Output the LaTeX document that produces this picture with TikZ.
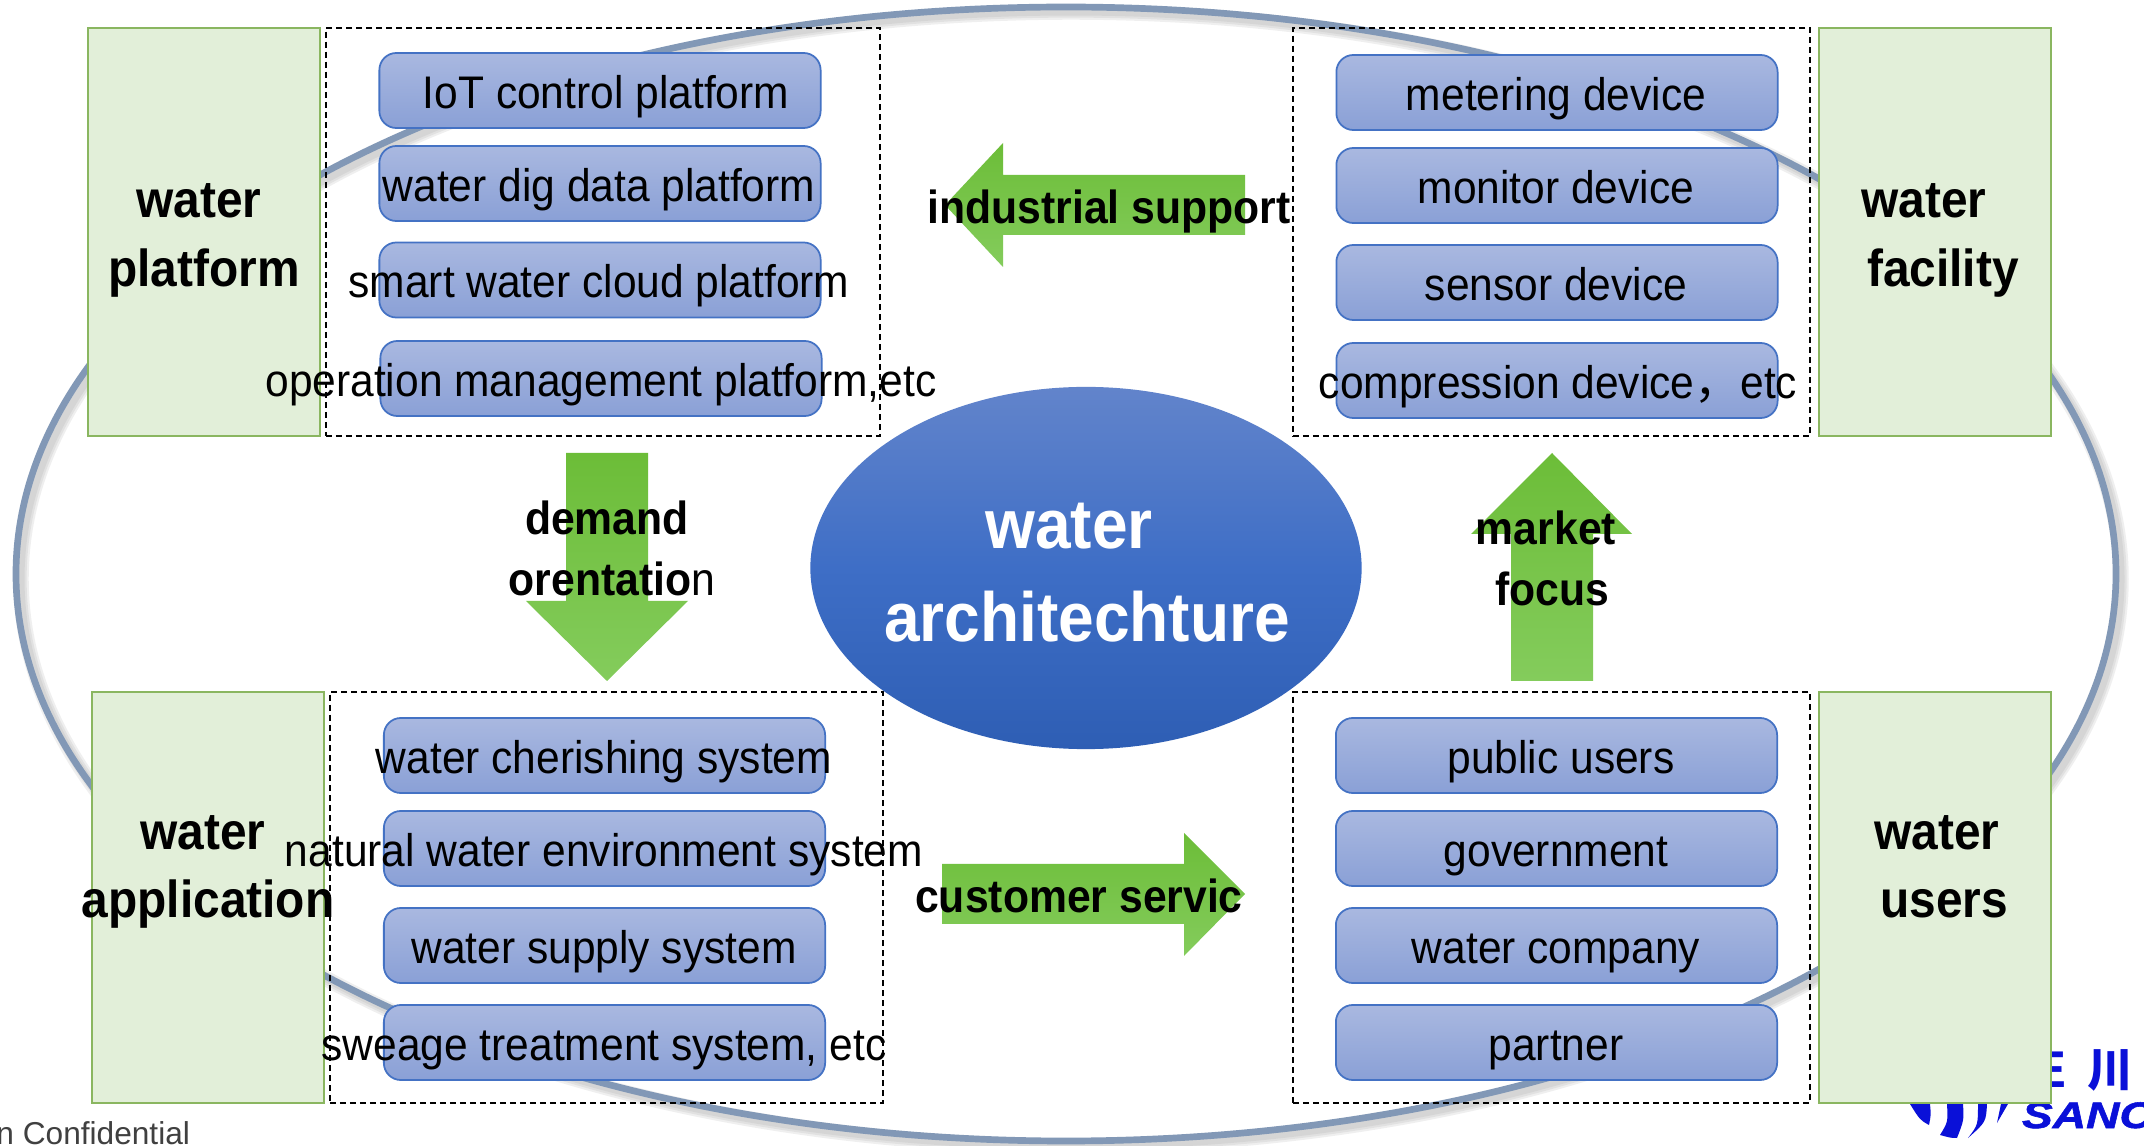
\documentclass[tikz,border=0pt]{standalone}
\usepackage{fontspec}
\setmainfont[FakeStretch=0.92]{Liberation Sans}
\newfontfamily\footfont{Liberation Sans}
\newfontfamily\itemfont[FakeStretch=0.93]{Liberation Sans}
\newfontfamily\logofont[FakeStretch=1.25,FakeBold=1.5]{Liberation Sans}
\newfontfamily\cjk{Noto Sans CJK SC}
\usetikzlibrary{shapes.geometric,positioning,calc}
\definecolor{ringblue}{HTML}{8298B6}
\definecolor{logoblue}{HTML}{0A10D8}
\definecolor{panelfill}{HTML}{E2EFD9}
\definecolor{paneledge}{HTML}{8AB660}
\definecolor{itemedge}{HTML}{4472C4}
\definecolor{itemtop}{HTML}{A9B8E0}
\definecolor{itembottom}{HTML}{8AA0D6}
\definecolor{flowtop}{HTML}{6CBD38}
\definecolor{flowbottom}{HTML}{84CC5C}
\definecolor{coretop}{HTML}{6284CB}
\definecolor{coremid}{HTML}{3E6EC6}
\definecolor{corebottom}{HTML}{2E5EB4}

\begin{document}
\begin{tikzpicture}[x=0.01cm, y=-0.01cm, outer sep=0pt]
        \tikzstyle{panel}=[draw=paneledge,fill=panelfill,line width=0.4pt,minimum width=2.32cm,inner sep=0pt]
        \tikzstyle{group}=[draw=black,line width=0.55pt,dash pattern=on 0.06cm off 0.04cm,minimum height=4.08cm,inner sep=0pt]
        \tikzstyle{itembox}=[draw=itemedge,line width=0.5pt,rounded corners=0.17cm,minimum width=4.41cm,minimum height=0.75cm,top color=itemtop,bottom color=itembottom,inner sep=0pt]
        \tikzstyle{itemtext}=[font=\itemfont\fontsize{13}{15}\selectfont,text=black,inner sep=0pt,anchor=base]
        \tikzstyle{paneltext}=[font=\fontsize{14.8}{18}\selectfont\bfseries,text=black,inner sep=0pt,anchor=base]
        \tikzstyle{flowtext}=[font=\fontsize{13.2}{15}\selectfont\bfseries,text=black,inner sep=0pt]
        \tikzstyle{flow}=[top color=flowtop,bottom color=flowbottom]
        \tikzstyle{ringshadow}=[gray,opacity=0.12]
        \useasboundingbox (0,0) rectangle (2144,1146);
        \fill[white] (0,0) rectangle (2144,1146);

        % outer ring
        \draw[ringshadow,line width=4.4pt] (1071,579) ellipse (1050 and 567);
        \draw[ringshadow,line width=3.2pt] (1071,579) ellipse (1050 and 567);
        \draw[ringshadow,line width=2pt] (1071,579) ellipse (1050 and 567);
        \draw[ringblue,line width=1.9pt] (1066,574) ellipse (1050 and 567);

        % logo
        \node[text=logoblue,font=\fontsize{14.7}{15}\selectfont\bfseries,inner sep=0pt] (logoE) at (2050,1070) {E};
        \node[text=logoblue,font=\cjk\fontsize{13}{14}\selectfont\bfseries,inner sep=0pt] (logoC) at (2110,1070) {川};
        \node[text=logoblue,font=\logofont\fontsize{10.5}{12}\selectfont\bfseries\itshape,anchor=base west,inner sep=0pt] (logoS) at (2022,1128) {SANC};
        \fill[logoblue] (1910,1104) -- (1930,1104) .. controls (1931,1115) .. (1929,1125) .. controls (1920,1120) .. (1910,1104) -- cycle;
        \fill[logoblue] (1947,1104) -- (1963,1104) .. controls (1964,1120) .. (1957,1138) .. controls (1951,1138) .. (1940,1135) .. controls (1948,1122) .. (1947,1104) -- cycle;
        \fill[logoblue] (1978,1104) -- (1987,1104) .. controls (1986,1122) .. (1968,1138) .. controls (1978,1125) .. (1978,1104) -- cycle;
        \fill[logoblue] (2008,1104) -- (2001,1104) -- (1997,1123) -- cycle;

        % dashed groups
        \node[group,minimum width=5.54cm] (plat) at (603,232) {};
        \node[group,minimum width=5.17cm] (faci) at (1551.5,232) {};
        \node[group,minimum width=5.53cm,minimum height=4.11cm] (appl) at (606.5,897.5) {};
        \node[group,minimum width=5.17cm,minimum height=4.11cm] (user) at (1551.5,897.5) {};

        % panels
        \node[panel,minimum height=4.08cm] (platP) at (204,232) {};
        \node[panel,minimum height=4.08cm] (faciP) at (1935,232) {};
        \node[panel,minimum height=4.11cm] (applP) at (208,897.5) {};
        \node[panel,minimum height=4.11cm] (userP) at (1935,897.5) {};

        % item boxes
        \node[itembox] (p1) at (600,90.5) {};
        \node[itembox] (p2) at (600,183.5) {};
        \node[itembox] (p3) at (600,280) {};
        \node[itembox] (p4) at (601,378.5) {};
        \node[itembox] (f1) at (1557,92.5) {};
        \node[itembox] (f2) at (1557,185.5) {};
        \node[itembox] (f3) at (1557,282.5) {};
        \node[itembox] (f4) at (1557,380.5) {};
        \node[itembox] (a1) at (604.5,755.5) {};
        \node[itembox] (a2) at (604.5,848.5) {};
        \node[itembox] (a3) at (604.5,945.5) {};
        \node[itembox] (a4) at (604.5,1042.5) {};
        \node[itembox] (u1) at (1556.5,755.5) {};
        \node[itembox] (u2) at (1556.5,848.5) {};
        \node[itembox] (u3) at (1556.5,945.5) {};
        \node[itembox] (u4) at (1556.5,1042.5) {};

        % green arrows
        \shade[flow] (945,205) -- (1003,143) -- (1003,175) -- (1245,175) -- (1245,235) -- (1003,235) -- (1003,267) -- cycle;
        \shade[flow] (566,453) -- (648,453) -- (648,601) -- (688,601) -- (607,681) -- (526,601) -- (566,601) -- cycle;
        \shade[flow] (1552,453) -- (1632,534) -- (1593,534) -- (1593,681) -- (1511,681) -- (1511,534) -- (1471,534) -- cycle;
        \shade[flow] (942,864) -- (1184,864) -- (1184,833) -- (1245,894) -- (1184,956) -- (1184,924) -- (942,924) -- cycle;

        % centre
        \node[ellipse,minimum width=5.51cm,minimum height=3.62cm,inner sep=0pt,top color=coretop,bottom color=corebottom,middle color=coremid] (core) at (1086,568) {};
        \node[font=\fontsize{19.8}{24}\selectfont\bfseries,text=white,inner sep=0pt] (coreA) at (1069,526) {water};
        \node[font=\fontsize{19.8}{24}\selectfont\bfseries,text=white,inner sep=0pt] (coreB) at (1087,617) {architechture};

        % item labels
        \node[itemtext] (p1t) at (606,108.5) {IoT control platform};
        \node[itemtext] (p2t) at (599,201.5) {water dig data platform};
        \node[itemtext] (p3t) at (599,298) {smart water cloud platform};
        \node[itemtext] (p4t) at (601,396.5) {operation management platform,etc};
        \node[itemtext] (f1t) at (1556,110.5) {metering device};
        \node[itemtext] (f2t) at (1556,203.5) {monitor device};
        \node[itemtext] (f3t) at (1556,300.5) {sensor device};
        \node[itemtext] (f4t) at (1558,398.5) {compression device{\cjk ，}etc};
        \node[itemtext] (a1t) at (604,773.5) {water cherishing system};
        \node[itemtext] (a2t) at (604,866.5) {natural water environment system};
        \node[itemtext] (a3t) at (604,963.5) {water supply system};
        \node[itemtext] (a4t) at (604,1060.5) {sweage treatment system, etc};
        \node[itemtext] (u1t) at (1561,773.5) {public users};
        \node[itemtext] (u2t) at (1556,866.5) {government};
        \node[itemtext] (u3t) at (1556,963.5) {water company};
        \node[itemtext] (u4t) at (1556,1060.5) {partner};

        % panel labels
        \node[paneltext] (platA) at (199,218) {water};
        \node[paneltext] (platB) at (204,287) {platform};
        \node[paneltext] (faciA) at (1924,218) {water};
        \node[paneltext] (faciB) at (1943,287) {facility};
        \node[paneltext] (applA) at (203,850) {water};
        \node[paneltext] (applB) at (208,918) {application};
        \node[paneltext] (userA) at (1937,850) {water};
        \node[paneltext] (userB) at (1944,918) {users};

        % arrow labels
        \node[flowtext] (supp) at (1109,212) {industrial support};
        \node[flowtext] (serv) at (1079,896) {customer servic};
        \node[flowtext] (demA) at (607,518) {demand};
        \node[flowtext] (demB) at (612,579) {orentatio\textmd{n}};
        \node[flowtext] (mktA) at (1546,528) {market};
        \node[flowtext] (mktB) at (1552,589) {focus};

        \node[font=\footfont\fontsize{9}{11}\selectfont,text=black!75,anchor=east,inner sep=0pt] (foot) at (190,1133) {n Confidential};
    \end{tikzpicture}
\end{document}
